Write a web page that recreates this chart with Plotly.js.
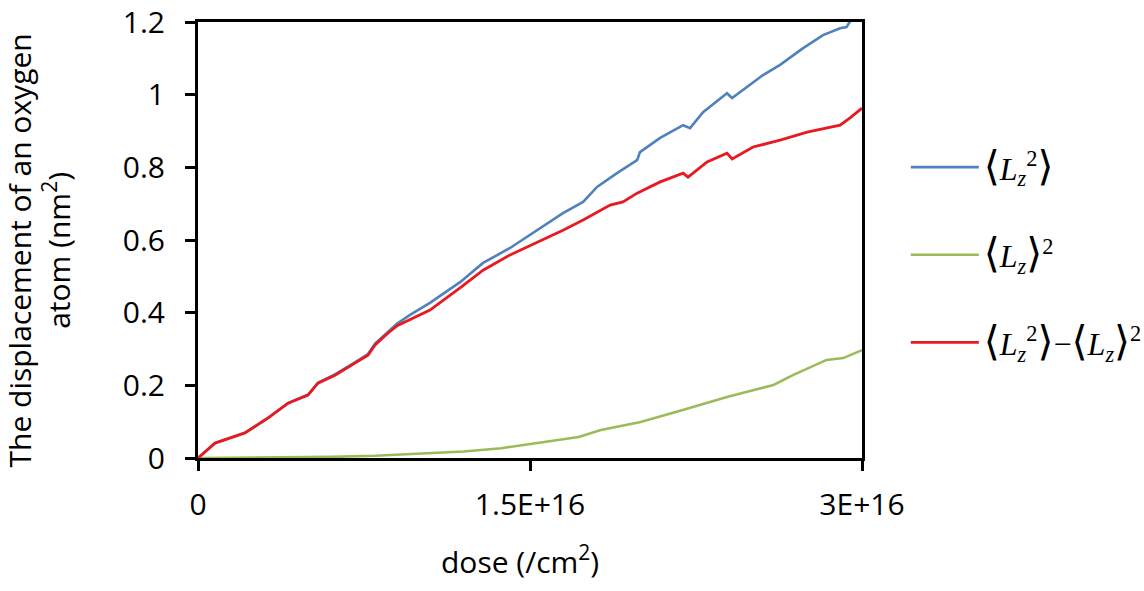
<!DOCTYPE html>
<html>
<head>
<meta charset="utf-8">
<script src="https://cdn.plot.ly/plotly-3.0.1.min.js"></script>
<style>
  html, body { margin: 0; padding: 0; background: #ffffff; }
  #chart { width: 1144px; height: 591px; }
</style>
</head>
<body>
<div id="chart"></div>
<script>
// Dose values are in ions per cm^2, displacements in nm^2.
const doseL2 = [0, 0.77e15, 2.12e15, 3.16e15, 4.07e15, 4.97e15, 5.42e15, 6.19e15, 7.09e15, 7.68e15, 8.0e15, 8.59e15, 9.0e15,
  9.58e15, 10.48e15, 11.84e15, 12.88e15, 14.10e15, 15.32e15, 16.49e15, 17.40e15, 18.03e15, 18.93e15, 19.84e15, 19.97e15,
  20.88e15, 21.92e15, 22.23e15, 22.82e15, 23.90e15, 24.13e15, 24.81e15, 25.53e15, 26.30e15, 27.34e15, 28.24e15, 29.01e15,
  29.30e15, 29.46e15, 29.60e15];
const meanL2 = [0, 0.041, 0.069, 0.110, 0.151, 0.174, 0.207, 0.230, 0.263, 0.286, 0.315, 0.349, 0.370,
  0.394, 0.427, 0.484, 0.537, 0.578, 0.627, 0.674, 0.705, 0.746, 0.784, 0.820, 0.842,
  0.881, 0.916, 0.908, 0.952, 1.004, 0.991, 1.021, 1.054, 1.082, 1.128, 1.164, 1.183,
  1.186, 1.200, 1.215];

const doseLsq = [0, 2e15, 4e15, 6e15, 8e15, 10e15, 12e15, 13.7e15, 15.2e15, 17.2e15, 18.2e15, 20.0e15, 21.9e15,
  23.9e15, 26.0e15, 26.9e15, 28.4e15, 29.15e15, 30e15];
const meanLsq = [0, 0.0005, 0.001, 0.003, 0.006, 0.011, 0.018, 0.027, 0.041, 0.058, 0.077, 0.099, 0.132,
  0.168, 0.201, 0.229, 0.270, 0.275, 0.297];

const doseVar = [0, 0.77e15, 2.12e15, 3.16e15, 4.07e15, 4.97e15, 5.42e15, 6.19e15, 7.09e15, 7.68e15, 8.0e15, 8.59e15, 9.0e15,
  9.58e15, 10.48e15, 11.84e15, 12.88e15, 14.10e15, 15.59e15, 16.49e15, 17.40e15, 18.62e15, 19.20e15, 19.84e15,
  20.88e15, 21.92e15, 22.14e15, 23.00e15, 23.90e15, 24.13e15, 25.08e15, 26.30e15, 27.52e15, 29.01e15, 29.46e15, 30e15];
const varL = [0, 0.041, 0.069, 0.110, 0.151, 0.173, 0.206, 0.228, 0.261, 0.283, 0.311, 0.344, 0.364,
  0.380, 0.407, 0.468, 0.517, 0.559, 0.600, 0.627, 0.655, 0.696, 0.705, 0.729,
  0.760, 0.784, 0.773, 0.815, 0.839, 0.823, 0.856, 0.875, 0.897, 0.916, 0.936, 0.963];

const xTickVals = [0, 1.5e16, 3e16];
const xTickText = ['0', '1.5E+16', '3E+16'];
const yTickVals = [0, 0.2, 0.4, 0.6, 0.8, 1, 1.2];
const yTickText = ['0', '0.2', '0.4', '0.6', '0.8', '1', '1.2'];

// Angle brackets drawn a little taller than the letters, as in typeset math.
const lb = '<span style="font-size:41px">⟨</span>';
const rb = '<span style="font-size:41px">⟩</span>';
const Lz = '<i>L</i><sub><i>z</i></sub>';
const seriesNames = [
  lb + Lz + '<sup>2</sup>' + rb,
  lb + Lz + rb + '<sup>2</sup>',
  lb + Lz + '<sup>2</sup>' + rb + '−' + lb + Lz + rb + '<sup>2</sup>'
];

const sansFont = '"Open Sans", "Noto Sans", sans-serif';

const traces = [
  { x: doseL2, y: meanL2, name: seriesNames[0], legendgroup: 'a', mode: 'lines',
    line: { color: '#4f81bd', width: 2.6 } },
  { x: doseLsq, y: meanLsq, name: seriesNames[1], legendgroup: 'b', mode: 'lines',
    line: { color: '#9bbb59', width: 2.6 } },
  { x: doseVar, y: varL, name: seriesNames[2], legendgroup: 'c', mode: 'lines',
    line: { color: '#e8191f', width: 2.8 } }
];

const layout = {
  width: 1144,
  height: 591,
  margin: { l: 198, r: 282, t: 22, b: 133, autoexpand: false },
  paper_bgcolor: '#ffffff',
  plot_bgcolor: '#ffffff',
  showlegend: true,
  legend: {
    x: 1.066, y: 0.466, xanchor: 'left', yanchor: 'middle',
    font: { family: '"Liberation Serif", "DejaVu Serif", serif', size: 32, color: '#000000' },
    tracegroupgap: 43,
    itemwidth: 68,
    bgcolor: 'rgba(0,0,0,0)'
  },
  xaxis: {
    range: [0, 3e16],
    tickvals: xTickVals, ticktext: xTickText,
    showgrid: false, zeroline: false,
    showline: true, linecolor: '#000000', linewidth: 3, mirror: true,
    ticks: 'outside', ticklen: 10, tickwidth: 3, tickcolor: '#000000',
    ticklabelstandoff: 8,
    tickfont: { family: sansFont, size: 30, color: '#000000' }
  },
  yaxis: {
    range: [0, 1.2],
    tickvals: yTickVals, ticktext: yTickText,
    showgrid: false, zeroline: false,
    showline: true, linecolor: '#000000', linewidth: 3, mirror: true,
    ticks: 'outside', ticklen: 10, tickwidth: 3, tickcolor: '#000000',
    ticklabelstandoff: 14,
    tickfont: { family: sansFont, size: 30, color: '#000000' }
  },
  annotations: [
    { text: 'The displacement of an oxygen<br>atom (nm<sup>2</sup>)',
      xref: 'paper', yref: 'paper', x: -0.24, y: 0.475,
      xanchor: 'center', yanchor: 'middle', textangle: -90, showarrow: false,
      font: { family: sansFont, size: 30, color: '#000000' } },
    { text: 'dose (/cm<sup>2</sup>)',
      xref: 'paper', yref: 'paper', x: 0.485, y: -0.234,
      xanchor: 'center', yanchor: 'middle', showarrow: false,
      font: { family: sansFont, size: 30, color: '#000000' } }
  ]
};

Plotly.newPlot('chart', traces, layout, { staticPlot: true, displayModeBar: false });
</script>
</body>
</html>
